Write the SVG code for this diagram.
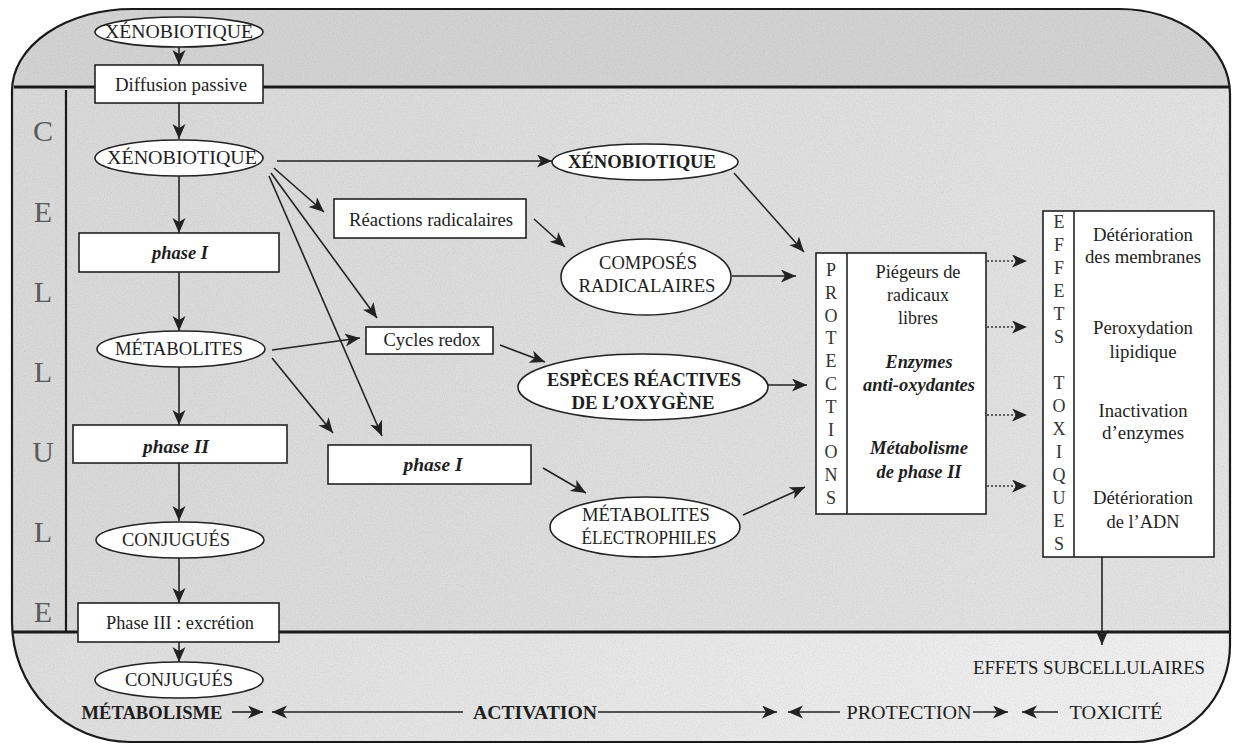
<svg xmlns="http://www.w3.org/2000/svg" width="1234" height="744" viewBox="0 0 1234 744">
<style>
text{font-family:"Liberation Serif","Times New Roman",serif;font-size:18px;fill:#1e1e1e}
.b{font-weight:bold}
.bi{font-weight:bold;font-style:italic}
.cell{font-size:30px;fill:#5a5a5a}
.v{fill:#333}
.box{fill:#fff;stroke:#222;stroke-width:1.6}
.ln{fill:none;stroke:#222;stroke-width:1.6}
.dot{fill:none;stroke:#333;stroke-width:1.4;stroke-dasharray:2 2}
.mem{fill:none;stroke:#1a1a1a;stroke-width:3.2}
</style>
<defs>
<marker id="ah" markerWidth="16" markerHeight="14" refX="15" refY="6.5" orient="auto" markerUnits="userSpaceOnUse">
<path d="M0,0 L15,6.5 L0,13 L4,6.5 z" fill="#222"/>
</marker>
<clipPath id="outer">
<path d="M12,622 L12,91 A120,82 0 0 1 132,9 L1120,9 A110,85 0 0 1 1230,94 L1230,645 A95,97 0 0 1 1135,742 L130,742 A118,120 0 0 1 12,622 Z"/>
</clipPath>
<linearGradient id="gb" x1="0" y1="0" x2="1" y2="0">
<stop offset="0" stop-color="#dedede"/>
<stop offset="1" stop-color="#f2f2f2"/>
</linearGradient>
<linearGradient id="gc" x1="0" y1="0" x2="1" y2="0">
<stop offset="0" stop-color="#dadada"/>
<stop offset="1" stop-color="#e4e4e4"/>
</linearGradient>
<filter id="noise" x="0" y="0" width="100%" height="100%">
<feTurbulence type="fractalNoise" baseFrequency="0.9" numOctaves="2" seed="4"/>
<feColorMatrix type="matrix" values="0 0 0 0 0  0 0 0 0 0  0 0 0 0 0  1.6 0 0 0 -0.55"/>
</filter>
</defs>

<g id="background">
<rect width="1234" height="744" fill="#fff"/>
<g clip-path="url(#outer)">
<rect x="0" y="0" width="1234" height="87" fill="#d4d4d4"/>
<rect x="0" y="87" width="1234" height="545" fill="url(#gc)"/>
<rect x="0" y="632" width="1234" height="112" fill="url(#gb)"/>
<rect x="0" y="0" width="1234" height="744" filter="url(#noise)" opacity="0.07"/>
</g>
<path d="M12,622 L12,91 A120,82 0 0 1 132,9 L1120,9 A110,85 0 0 1 1230,94 L1230,645 A95,97 0 0 1 1135,742 L130,742 A118,120 0 0 1 12,622 Z" fill="none" stroke="#1a1a1a" stroke-width="2.2"/>
<line class="mem" x1="14" y1="87" x2="1229" y2="87"/>
<line class="mem" x1="12" y1="632" x2="1230" y2="632"/>
<line x1="66" y1="90" x2="66" y2="632" stroke="#1a1a1a" stroke-width="2.2"/>
</g>

<g id="cellule-label" text-anchor="middle">
<text class="cell" x="43" y="141">C</text>
<text class="cell" x="43" y="222">E</text>
<text class="cell" x="43" y="302">L</text>
<text class="cell" x="43" y="382">L</text>
<text class="cell" x="43" y="462">U</text>
<text class="cell" x="43" y="542">L</text>
<text class="cell" x="43" y="622">E</text>
</g>

<g id="connectors">
<line class="ln" x1="179" y1="47" x2="179" y2="65" marker-end="url(#ah)"/>
<line class="ln" x1="179" y1="103" x2="179" y2="139" marker-end="url(#ah)"/>
<line class="ln" x1="179" y1="176" x2="179" y2="233" marker-end="url(#ah)"/>
<line class="ln" x1="179" y1="272" x2="179" y2="331" marker-end="url(#ah)"/>
<line class="ln" x1="179" y1="367" x2="179" y2="425" marker-end="url(#ah)"/>
<line class="ln" x1="179" y1="463" x2="179" y2="521" marker-end="url(#ah)"/>
<line class="ln" x1="179" y1="558" x2="179" y2="603" marker-end="url(#ah)"/>
<line class="ln" x1="179" y1="642" x2="179" y2="662" marker-end="url(#ah)"/>
<line class="ln" x1="277" y1="161" x2="552" y2="161" marker-end="url(#ah)"/>
<line class="ln" x1="274" y1="168" x2="324" y2="212" marker-end="url(#ah)"/>
<line class="ln" x1="271" y1="173" x2="377" y2="318" marker-end="url(#ah)"/>
<line class="ln" x1="269" y1="176" x2="382" y2="436" marker-end="url(#ah)"/>
<line class="ln" x1="272" y1="350" x2="360" y2="338" marker-end="url(#ah)"/>
<line class="ln" x1="272" y1="358" x2="333" y2="433" marker-end="url(#ah)"/>
<line class="ln" x1="534" y1="219" x2="565" y2="247" marker-end="url(#ah)"/>
<line class="ln" x1="500" y1="345" x2="545" y2="362" marker-end="url(#ah)"/>
<line class="ln" x1="543" y1="468" x2="586" y2="493" marker-end="url(#ah)"/>
<line class="ln" x1="734" y1="173" x2="804" y2="252" marker-end="url(#ah)"/>
<line class="ln" x1="732" y1="276" x2="796" y2="276" marker-end="url(#ah)"/>
<line class="ln" x1="768" y1="385" x2="807" y2="385" marker-end="url(#ah)"/>
<line class="ln" x1="743" y1="515" x2="805" y2="487" marker-end="url(#ah)"/>
<line class="dot" x1="847" y1="261" x2="1027" y2="261" marker-end="url(#ah)"/>
<line class="dot" x1="847" y1="327" x2="1027" y2="327" marker-end="url(#ah)"/>
<line class="dot" x1="847" y1="415" x2="1027" y2="415" marker-end="url(#ah)"/>
<line class="dot" x1="847" y1="486" x2="1027" y2="486" marker-end="url(#ah)"/>
<line class="ln" x1="1102" y1="545" x2="1102" y2="645" marker-end="url(#ah)"/>
<line class="ln" x1="232" y1="712" x2="263" y2="712" marker-end="url(#ah)"/>
<line class="ln" x1="463" y1="712" x2="272" y2="712" marker-end="url(#ah)"/>
<line class="ln" x1="598" y1="712" x2="777" y2="712" marker-end="url(#ah)"/>
<line class="ln" x1="840" y1="712" x2="788" y2="712" marker-end="url(#ah)"/>
<line class="ln" x1="973" y1="712" x2="1008" y2="712" marker-end="url(#ah)"/>
<line class="ln" x1="1058" y1="712" x2="1022" y2="712" marker-end="url(#ah)"/>
</g>

<g id="xeno-ext" text-anchor="middle">
<ellipse class="box" cx="179" cy="32" rx="84" ry="15"/>
<text x="179" y="38" textLength="148" lengthAdjust="spacingAndGlyphs">XÉNOBIOTIQUE</text>
</g>
<g id="diffusion" text-anchor="middle">
<rect class="box" x="95" y="65" width="168" height="38"/>
<text x="181" y="91" textLength="132" lengthAdjust="spacingAndGlyphs">Diffusion passive</text>
</g>
<g id="xeno-cell" text-anchor="middle">
<ellipse class="box" cx="179" cy="158" rx="84" ry="18"/>
<text x="182" y="164" textLength="150" lengthAdjust="spacingAndGlyphs">XÉNOBIOTIQUE</text>
</g>
<g id="phase1-left" text-anchor="middle">
<rect class="box" x="79" y="233" width="200" height="39"/>
<text class="bi" x="180" y="259" textLength="56" lengthAdjust="spacingAndGlyphs">phase I</text>
</g>
<g id="metabolites" text-anchor="middle">
<ellipse class="box" cx="181" cy="349" rx="84" ry="18"/>
<text x="179" y="355" textLength="128" lengthAdjust="spacingAndGlyphs">MÉTABOLITES</text>
</g>
<g id="phase2" text-anchor="middle">
<rect class="box" x="73" y="425" width="214" height="38"/>
<text class="bi" x="176" y="453" textLength="66" lengthAdjust="spacingAndGlyphs">phase II</text>
</g>
<g id="conjugues-cell" text-anchor="middle">
<ellipse class="box" cx="180" cy="540" rx="84" ry="18"/>
<text x="176" y="546" textLength="108" lengthAdjust="spacingAndGlyphs">CONJUGUÉS</text>
</g>
<g id="phase3" text-anchor="middle">
<rect class="box" x="78" y="603" width="201" height="39"/>
<text x="180" y="629" textLength="148" lengthAdjust="spacingAndGlyphs">Phase III : excrétion</text>
</g>
<g id="conjugues-ext" text-anchor="middle">
<ellipse class="box" cx="179" cy="680" rx="84" ry="18"/>
<text x="179" y="686" textLength="108" lengthAdjust="spacingAndGlyphs">CONJUGUÉS</text>
</g>

<g id="xeno-right" text-anchor="middle">
<ellipse class="box" cx="645" cy="162" rx="93" ry="18"/>
<text class="b" x="642" y="168" textLength="148" lengthAdjust="spacingAndGlyphs">XÉNOBIOTIQUE</text>
</g>
<g id="reactions" text-anchor="middle">
<rect class="box" x="334" y="199" width="192" height="39"/>
<text x="431" y="226" textLength="164" lengthAdjust="spacingAndGlyphs">Réactions radicalaires</text>
</g>
<g id="composes" text-anchor="middle">
<ellipse class="box" cx="646" cy="277" rx="85" ry="38"/>
<text x="648" y="269" textLength="98" lengthAdjust="spacingAndGlyphs">COMPOSÉS</text>
<text x="647" y="292" textLength="137" lengthAdjust="spacingAndGlyphs">RADICALAIRES</text>
</g>
<g id="cycles" text-anchor="middle">
<rect class="box" x="366" y="327" width="127" height="27"/>
<text x="432" y="346" textLength="97" lengthAdjust="spacingAndGlyphs">Cycles redox</text>
</g>
<g id="especes" text-anchor="middle">
<ellipse class="box" cx="643" cy="387" rx="125" ry="33"/>
<text class="b" x="644" y="386" textLength="194" lengthAdjust="spacingAndGlyphs">ESPÈCES RÉACTIVES</text>
<text class="b" x="643" y="409" textLength="143" lengthAdjust="spacingAndGlyphs">DE L’OXYGÈNE</text>
</g>
<g id="phase1-mid" text-anchor="middle">
<rect class="box" x="328" y="445" width="203" height="39"/>
<text class="bi" x="433" y="471" textLength="59" lengthAdjust="spacingAndGlyphs">phase I</text>
</g>
<g id="electrophiles" text-anchor="middle">
<ellipse class="box" cx="645" cy="527" rx="95" ry="30"/>
<text x="646" y="521" textLength="128" lengthAdjust="spacingAndGlyphs">MÉTABOLITES</text>
<text x="649" y="544" textLength="135" lengthAdjust="spacingAndGlyphs">ÉLECTROPHILES</text>
</g>

<g id="protections" text-anchor="middle">
<rect class="box" x="816" y="253" width="170" height="261"/>
<line class="ln" x1="847" y1="253" x2="847" y2="514"/>
<text class="v" x="831" y="276">P</text>
<text class="v" x="831" y="299">R</text>
<text class="v" x="831" y="322">O</text>
<text class="v" x="831" y="344">T</text>
<text class="v" x="831" y="367">E</text>
<text class="v" x="831" y="390">C</text>
<text class="v" x="831" y="413">T</text>
<text class="v" x="831" y="436">I</text>
<text class="v" x="831" y="458">O</text>
<text class="v" x="831" y="481">N</text>
<text class="v" x="831" y="504">S</text>
<text x="918" y="278" textLength="85" lengthAdjust="spacingAndGlyphs">Piégeurs de</text>
<text x="918" y="301">radicaux</text>
<text x="918" y="324">libres</text>
<text class="bi" x="919" y="368" textLength="67" lengthAdjust="spacingAndGlyphs">Enzymes</text>
<text class="bi" x="919" y="391" textLength="112" lengthAdjust="spacingAndGlyphs">anti-oxydantes</text>
<text class="bi" x="919" y="454" textLength="98" lengthAdjust="spacingAndGlyphs">Métabolisme</text>
<text class="bi" x="919" y="478" textLength="85" lengthAdjust="spacingAndGlyphs">de phase II</text>
</g>

<g id="effets-toxiques" text-anchor="middle">
<rect class="box" x="1043" y="211" width="171" height="346"/>
<line class="ln" x1="1074" y1="211" x2="1074" y2="557"/>
<text class="v" x="1059" y="228">E</text>
<text class="v" x="1059" y="251">F</text>
<text class="v" x="1059" y="274">F</text>
<text class="v" x="1059" y="297">E</text>
<text class="v" x="1059" y="320">T</text>
<text class="v" x="1059" y="343">S</text>
<text class="v" x="1059" y="389">T</text>
<text class="v" x="1059" y="412">O</text>
<text class="v" x="1059" y="435">X</text>
<text class="v" x="1059" y="458">I</text>
<text class="v" x="1059" y="481">Q</text>
<text class="v" x="1059" y="504">U</text>
<text class="v" x="1059" y="527">E</text>
<text class="v" x="1059" y="550">S</text>
<text x="1143" y="241" textLength="100" lengthAdjust="spacingAndGlyphs">Détérioration</text>
<text x="1143" y="263" textLength="116" lengthAdjust="spacingAndGlyphs">des membranes</text>
<text x="1143" y="334" textLength="100" lengthAdjust="spacingAndGlyphs">Peroxydation</text>
<text x="1143" y="358" textLength="67" lengthAdjust="spacingAndGlyphs">lipidique</text>
<text x="1143" y="417" textLength="89" lengthAdjust="spacingAndGlyphs">Inactivation</text>
<text x="1143" y="439" textLength="82" lengthAdjust="spacingAndGlyphs">d’enzymes</text>
<text x="1143" y="504" textLength="100" lengthAdjust="spacingAndGlyphs">Détérioration</text>
<text x="1143" y="528" textLength="73" lengthAdjust="spacingAndGlyphs">de l’ADN</text>
</g>

<g id="effets-subcellulaires" text-anchor="middle">
<text x="1089" y="674" textLength="232" lengthAdjust="spacingAndGlyphs">EFFETS SUBCELLULAIRES</text>
</g>

<g id="legend" text-anchor="middle">
<text class="b" x="152" y="719" textLength="141" lengthAdjust="spacingAndGlyphs">MÉTABOLISME</text>
<text class="b" x="535" y="719" textLength="124" lengthAdjust="spacingAndGlyphs">ACTIVATION</text>
<text x="909" y="719" textLength="125" lengthAdjust="spacingAndGlyphs">PROTECTION</text>
<text x="1116" y="719" textLength="93" lengthAdjust="spacingAndGlyphs">TOXICITÉ</text>
</g>
</svg>
